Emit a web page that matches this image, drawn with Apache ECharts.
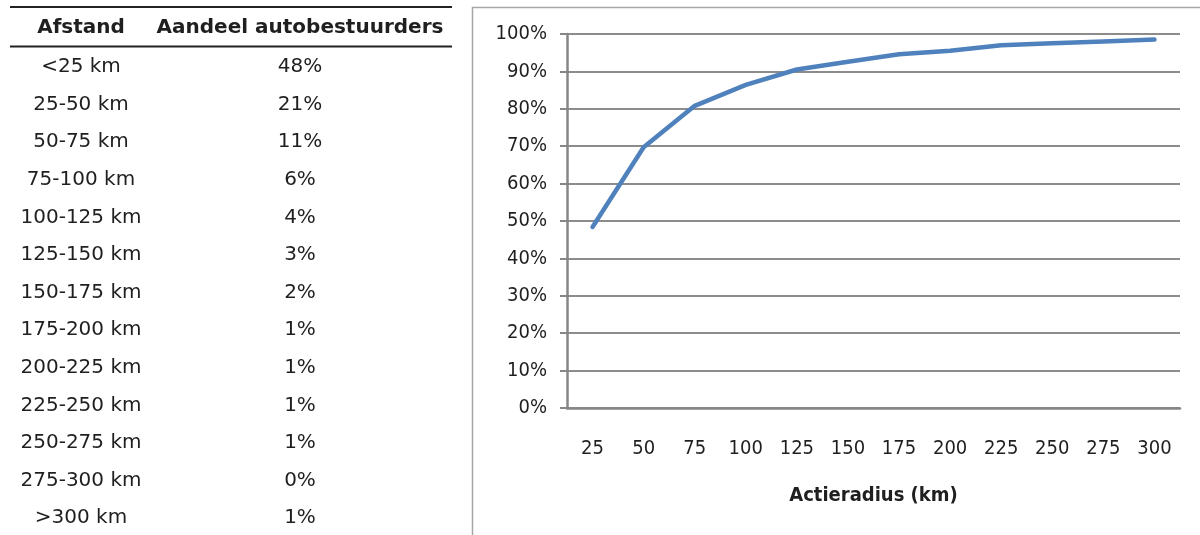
<!DOCTYPE html>
<html>
<head>
<meta charset="utf-8">
<script src="https://cdn.jsdelivr.net/npm/echarts@6/dist/echarts.min.js"></script>
<style>
  html, body { margin: 0; padding: 0; background: #fff; }
  #chart { width: 1200px; height: 535px; }
</style>
</head>
<body>
<div id="chart"></div>
<script>
// Table: distance bands and share of car drivers per band
const tableHeaders = ['Afstand', 'Aandeel autobestuurders'];
const distanceBands = ['<25 km', '25-50 km', '50-75 km', '75-100 km', '100-125 km', '125-150 km',
  '150-175 km', '175-200 km', '200-225 km', '225-250 km', '250-275 km', '275-300 km', '>300 km'];
const driverShare = [48, 21, 11, 6, 4, 3, 2, 1, 1, 1, 1, 0, 1];

// Line chart: cumulative share reached within each driving range
const rangeKm = ['25', '50', '75', '100', '125', '150', '175', '200', '225', '250', '275', '300'];
const cumulativeShare = [48.4, 69.7, 80.8, 86.4, 90.5, 92.6, 94.6, 95.5, 97.0, 97.5, 98.0, 98.5];
const xAxisTitle = 'Actieradius (km)';

const tableFont = "'DejaVu Sans', Verdana, sans-serif";
const chartFont = "'Liberation Sans Narrow', 'DejaVu Sans Condensed', 'Roboto', sans-serif";
const textColor = '#1f1f1f';

const colA = 81, colB = 300;
const headerY = 28, firstRowY = 67, rowStep = 37.6;

const graphics = [];
// rule lines above and below the header
graphics.push({ type: 'line', shape: { x1: 10, y1: 7, x2: 452, y2: 7 }, style: { stroke: '#222', lineWidth: 2 } });
graphics.push({ type: 'line', shape: { x1: 10, y1: 46.5, x2: 452, y2: 46.5 }, style: { stroke: '#222', lineWidth: 2 } });
[colA, colB].forEach((x, i) => {
  graphics.push({
    type: 'text', x: x, y: headerY,
    style: { text: tableHeaders[i], font: "bold 20px " + tableFont, fill: textColor, align: 'center', verticalAlign: 'middle' }
  });
});
distanceBands.forEach((band, i) => {
  const y = firstRowY + i * rowStep;
  graphics.push({
    type: 'text', x: colA, y: y,
    style: { text: band, font: "20px " + tableFont, fill: textColor, align: 'center', verticalAlign: 'middle' }
  });
  graphics.push({
    type: 'text', x: colB, y: y,
    style: { text: driverShare[i] + '%', font: "20px " + tableFont, fill: textColor, align: 'center', verticalAlign: 'middle' }
  });
});
// frame around the chart area
graphics.push({
  type: 'rect', z: -1, shape: { x: 472.5, y: 7.5, width: 740, height: 540 },
  style: { fill: '#fff', stroke: '#a6a6a6', lineWidth: 1.5 }
});

const chart = echarts.init(document.getElementById('chart'), null, { renderer: 'canvas' });
chart.setOption({
  animation: false,
  backgroundColor: '#fff',
  graphic: graphics,
  grid: { left: 567, right: 20, top: 34, bottom: 127, containLabel: false },
  xAxis: {
    type: 'category',
    data: rangeKm,
    boundaryGap: true,
    name: xAxisTitle,
    nameLocation: 'middle',
    nameGap: 78,
    nameTextStyle: { fontFamily: chartFont, fontSize: 20, fontWeight: 'bold', color: textColor },
    axisLine: { lineStyle: { color: '#868686', width: 2.5 } },
    axisTick: { show: false },
    axisLabel: { fontFamily: chartFont, fontSize: 20, color: textColor, margin: 31 },
    splitLine: { show: false }
  },
  yAxis: {
    type: 'value',
    min: 0, max: 100, interval: 10,
    axisLine: { show: true, lineStyle: { color: '#868686', width: 2.5 } },
    axisTick: { show: true, length: 7, lineStyle: { color: '#868686', width: 2 } },
    axisLabel: { fontFamily: chartFont, fontSize: 20, color: textColor, margin: 20, formatter: v => v + '%' },
    splitLine: { lineStyle: { color: '#8c8c8c', width: 2 } }
  },
  series: [{
    type: 'line',
    data: cumulativeShare,
    symbol: 'none',
    smooth: false,
    lineStyle: { color: '#4f81bd', width: 4.5, cap: 'round', join: 'round' }
  }]
});
</script>
</body>
</html>
